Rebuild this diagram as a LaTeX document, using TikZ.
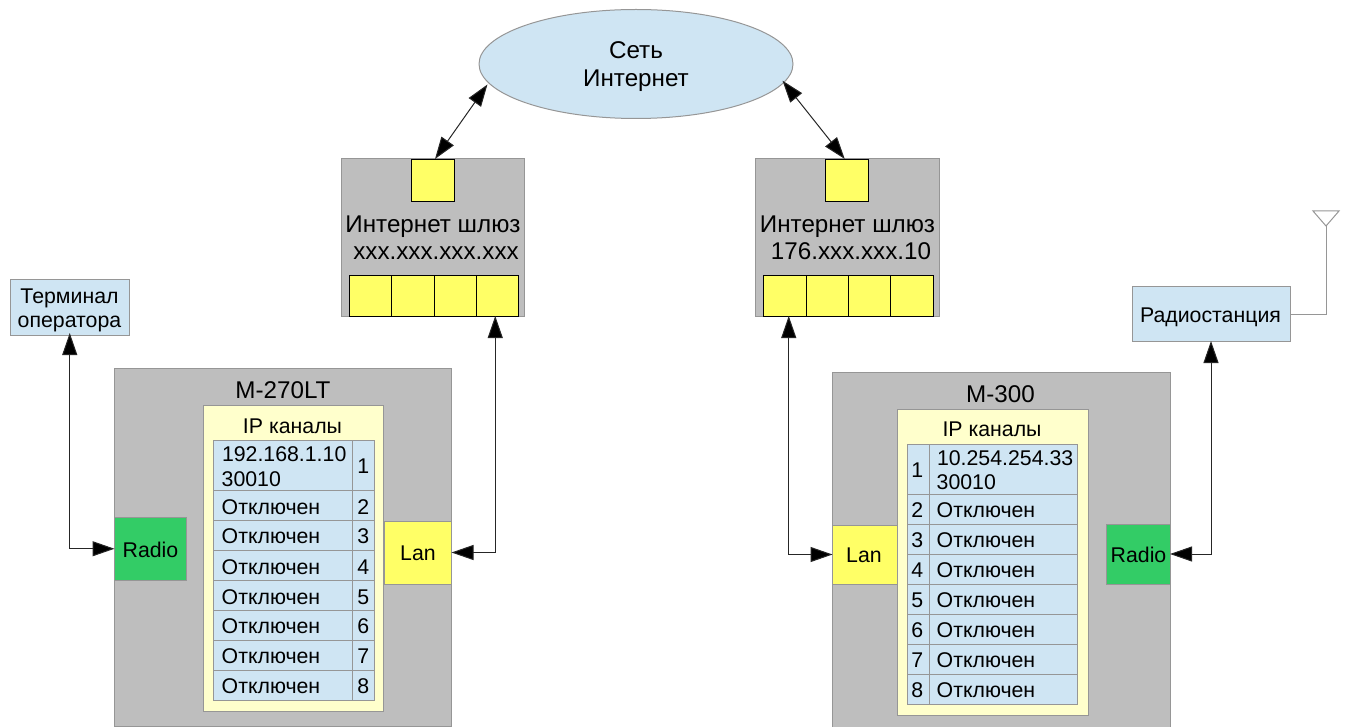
\documentclass[tikz,border=0pt]{standalone}
\usepackage{fontspec}
\setmainfont{Liberation Sans}
\usetikzlibrary{arrows.meta,shapes.geometric,calc}
\definecolor{boxgray}{HTML}{BEBEBE}
\definecolor{edgegray}{HTML}{969696}
\definecolor{paleblue}{HTML}{CFE5F3}
\definecolor{paleyellow}{HTML}{FFFFCC}
\definecolor{portyellow}{HTML}{FFFF66}
\definecolor{radiogreen}{HTML}{33CC66}
\tikzset{
  x=1pt,y=-1pt,
  every node/.style={inner sep=0pt,outer sep=0pt,text=black},
  rbox/.style={draw=edgegray,line width=1pt,rectangle},
  grayface/.style={rbox,fill=boxgray},
  blueface/.style={rbox,fill=paleblue},
  paleface/.style={rbox,fill=paleyellow},
  lanface/.style={rbox,fill=portyellow},
  radioface/.style={rbox,fill=radiogreen},
  port/.style={draw=black,line width=0.9pt,fill=portyellow,rectangle},
  big/.style={font=\fontsize{24.2}{27}\selectfont,anchor=base},
  small/.style={font=\fontsize{21.3}{24.5}\selectfont,anchor=base},
  cell/.style={font=\fontsize{21.3}{24.5}\selectfont,anchor=base west},
  link/.style={draw=black!85,line width=1pt,{Triangle[length=22pt,width=15pt,fill=black]}-{Triangle[length=22pt,width=15pt,fill=black]}},
  thin link/.style={draw=edgegray,line width=1pt},
}
\newcommand{\rectnode}[6]{%
  \node[#1,minimum width=#5pt-#3pt,minimum height=#6pt-#4pt,anchor=north west] (#2) at (#3,#4) {};}
\begin{document}
\begin{tikzpicture}
\useasboundingbox (0,0) rectangle (1346,727);
\begin{scope}
\clip (0,0) rectangle (1346,727);

% Internet cloud
\node[ellipse,draw=edgegray,line width=1pt,fill=paleblue,minimum width=314pt,minimum height=109pt] (net) at (636,64) {};
\node[big] (netA) at (636,59) {Сеть};
\node[big] (netB) at (636,87) {Интернет};

% Left gateway
\rectnode{grayface}{gwL}{341}{159}{524.5}{316}
\rectnode{port}{gwLt}{411}{159}{454}{201.5}
\rectnode{port}{gwLa}{349}{275}{391.5}{316}
\rectnode{port}{gwLb}{391.5}{275}{434}{316}
\rectnode{port}{gwLc}{434}{275}{476}{316}
\rectnode{port}{gwLd}{476}{275}{518.5}{316}
\node[big] (gwLn) at (433,233) {Интернет шлюз};
\node[big] (gwLi) at (436,260) {xxx.xxx.xxx.xxx};

% Right gateway
\rectnode{grayface}{gwR}{755.5}{159}{939}{316}
\rectnode{port}{gwRt}{825.5}{159}{868}{201.5}
\rectnode{port}{gwRa}{763.5}{275}{806}{316}
\rectnode{port}{gwRb}{806}{275}{848}{316}
\rectnode{port}{gwRc}{848}{275}{890}{316}
\rectnode{port}{gwRd}{890}{275}{933}{316}
\node[big] (gwRn) at (847.5,233) {Интернет шлюз};
\node[big] (gwRi) at (851,260) {176.xxx.xxx.10};

% Terminal and radio station
\rectnode{blueface}{term}{10}{280}{129.5}{335}
\node[small] (termA) at (69.5,303) {Терминал};
\node[small] (termB) at (69.5,327) {оператора};
\rectnode{blueface}{rst}{1132}{287}{1290}{341}
\node[small] (rstt) at (1210.5,322) {Радиостанция};

% M-270LT
\rectnode{grayface}{mL}{114.5}{368}{451.5}{726.5}
\node[big] (mLn) at (283,398) {M-270LT};
\rectnode{paleface}{ipL}{203}{405}{383}{711}
\node[small] (ipLt) at (292.5,433) {IP каналы};
\rectnode{radioface}{radL}{114.5}{517}{186}{580.5}
\node[small] (radLt) at (150.5,557) {Radio};
\rectnode{lanface}{lanL}{384.5}{521}{451.5}{584}
\node[small] (lanLt) at (418,560) {Lan};

\foreach \n/\a/\b/\t in {1/440/490.5/473,2/490.5/520.5/514,3/520.5/550.5/543,4/550.5/580.5/574,5/580.5/610.5/604,6/610.5/640/633,7/640/670/663,8/670/700/693}{
  \rectnode{blueface}{cLa\n}{213.5}{\a}{352}{\b}
  \rectnode{blueface}{cLb\n}{352}{\a}{374.5}{\b}
  \node[small] (cLn\n) at (363.25,\t) {\n};
  \ifnum\n>1 \node[cell] (cLt\n) at (221.7,\t) {Отключен};\fi
}
\node[cell] (cLt1) at (222,461) {192.168.1.10};
\node[cell] (cLu1) at (221.7,486) {30010};

% M-300
\rectnode{grayface}{mR}{832}{372}{1170}{740}
\node[big] (mRn) at (1000.5,402) {M-300};
\rectnode{paleface}{ipR}{897}{409}{1088}{715}
\node[small] (ipRt) at (992,436) {IP каналы};
\rectnode{lanface}{lanR}{832.5}{525}{897}{584}
\node[small] (lanRt) at (864,562) {Lan};
\rectnode{radioface}{radR}{1106.5}{524}{1170}{584}
\node[small] (radRt) at (1138.5,562) {Radio};

\foreach \n/\a/\b/\t in {1/444/494/477,2/494/524/517,3/524/554/547,4/554/584/577,5/584/614/607,6/614/644/637,7/644/674/667,8/674/704/697}{
  \rectnode{blueface}{cRa\n}{907}{\a}{929}{\b}
  \rectnode{blueface}{cRb\n}{929}{\a}{1077}{\b}
  \node[small] (cRn\n) at (917.3,\t) {\n};
  \ifnum\n>1 \node[cell] (cRt\n) at (936.7,\t) {Отключен};\fi
}
\node[cell] (cRt1) at (937,465) {10.254.254.33};
\node[cell] (cRu1) at (936.7,489) {30010};

% Connectors
\draw[link] ([xshift=-3pt]net.188) -- ([xshift=2.5pt]gwLt.north);
\draw[link] ([xshift=-1.5pt,yshift=1.5pt]net.-7) -- ([xshift=-2pt]gwRt.north);
\draw[link] (lanL.east) -| ([xshift=-2pt]gwLd.south);
\draw[link] (lanR.west) -| ([xshift=4pt]gwRa.south);
\draw[link] (radL.west) -| ([yshift=2pt]term.south);
\draw[link] (radR.east) -| (rst.south);

% Antenna
\coordinate (antTop) at (1326,226);
\draw[thin link] (rst.east) -| (antTop);
\draw[thin link,line join=miter] (1313,211) -- (1339,211) -- (antTop) -- cycle;
\end{scope}
\end{tikzpicture}
\end{document}
